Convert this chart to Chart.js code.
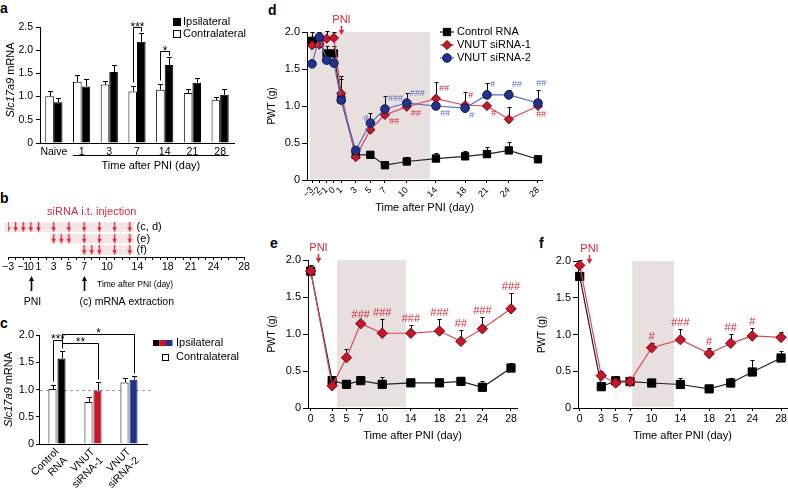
<!DOCTYPE html>
<html><head><meta charset="utf-8">
<script src="https://cdn.jsdelivr.net/npm/chart.js@4.4.1/dist/chart.umd.min.js"></script>
<style>
html,body{margin:0;padding:0;background:#fff;}
body{position:relative;width:788px;height:495px;overflow:hidden;}
canvas{position:absolute;}
.lt{position:absolute;font:bold 14px "Liberation Sans",Arial,sans-serif;line-height:14px;color:#000;}
</style></head><body>
<div class="lt" style="left:0px;top:1px">a</div>
<div class="lt" style="left:0px;top:191px">b</div>
<div class="lt" style="left:0px;top:316px">c</div>
<div class="lt" style="left:268px;top:3px">d</div>
<div class="lt" style="left:270px;top:236px">e</div>
<div class="lt" style="left:539px;top:236px">f</div>
<script>
// ================= DATA =================
// Panel a
const aCategories = ['Naive','1','3','7','14','21','28'];
const aContra     = [1.01,1.32,1.26,1.11,1.15,1.08,0.92];
const aContraErr  = [0.10,0.15,0.08,0.12,0.12,0.08,0.08];
const aIpsi       = [0.88,1.22,1.53,2.18,1.68,1.30,1.04];
const aIpsiErr    = [0.08,0.15,0.16,0.18,0.17,0.11,0.13];
const aYTicks     = [0,0.5,1,1.5,2,2.5];
const aSigCats    = ['7','14'];
const aSigText    = ['***','*'];

// Panel b
const bAxisDays   = [-3,-2,-1,0,1,2,3,4,5,6,7,8,9,10,11,12,13,14,15,16,17,18,19,20,21,22,23,24,25,26,27,28];
const bLabelDays  = [-3,-1,0,1,3,5,7,10,14,18,21,24,28];
const bRowLabels  = ['(c, d)','(e)','(f)'];
const bInjections = [[-3,-2,-1,0,1,3,5,7,9,11,13],[3,4,5,7,9,11,13],[7,8,9,11,13]];
const bEventDays  = [0,7];
const bEventText  = ['PNI','(c) mRNA extraction'];

// Panel c
const cCategories = [['Control','RNA'],['VNUT','siRNA-1'],['VNUT','siRNA-2']];
const cContra     = [1.01,0.77,1.13];
const cContraErr  = [0.08,0.10,0.08];
const cIpsi       = [1.57,0.98,1.18];
const cIpsiErr    = [0.14,0.15,0.06];
const cYTicks     = [0,0.5,1,1.5,2];
const cSigText    = ['***','**','*'];
const cSigFrom    = [[0,0],[0,1],[0,1]];
const cSigTo      = [[0,1],[1,1],[2,1]];

// Panel d
const dDays       = [-3,-2,-1,0,1,3,5,7,10,14,18,21,24,28];
const dControl    = [1.88,1.84,1.71,1.71,1.09,0.34,0.34,0.20,0.25,0.29,0.32,0.35,0.40,0.28];
const dControlErr = [0.12,0.08,0.10,0.10,0.27,0.04,0.03,0.03,0.06,0.08,0.07,0.09,0.12,0.03];
const dSi1        = [1.82,1.83,1.91,1.92,1.17,0.31,0.68,0.88,0.99,1.10,1.01,1.00,0.82,1.00];
const dSi1Err     = [0.10,0.08,0.10,0.08,0.23,0.03,0.05,0.04,0.05,0.23,0.18,0.03,0.17,0.03];
const dSi2        = [1.57,1.93,1.62,1.58,1.08,0.40,0.77,0.96,1.04,1.00,0.97,1.15,1.15,1.04];
const dSi2Err     = [0.05,0.07,0.05,0.04,0.05,0.05,0.14,0.17,0.13,0.04,0.05,0.16,0.07,0.18];
const dTicks      = [-3,-2,-1,0,1,3,5,7,10,14,18,21,24,28];
const dSi1Sig     = [[7,'##','rb'],[10,'##','rb'],[14,'##','ra'],[18,'#','ra'],[21,'#','rb'],[28,'##','b']];
const dSi2Sig     = [[5,'#','l'],[7,'###','ra'],[10,'###','ra'],[14,'##','rb'],[18,'#','rb'],[21,'#','ra'],[24,'##','ra'],[28,'##','a']];
const dShade      = [-3.3,13.2];

// Panel e
const eDays       = [0,3,5,7,10,14,18,21,24,28];
const eControl    = [1.85,0.37,0.32,0.37,0.32,0.34,0.34,0.36,0.28,0.54];
const eControlErr = [0.05,0.03,0.03,0.04,0.10,0.03,0.03,0.03,0.08,0.07];
const eSi1        = [1.85,0.30,0.68,1.14,1.01,1.01,1.04,0.90,1.07,1.34];
const eSi1Err     = [0.08,0.03,0.12,0.04,0.19,0.11,0.16,0.15,0.16,0.22];
const eSi1Sig     = [[7,'###','a'],[10,'###','a'],[14,'###','a'],[18,'###','a'],[21,'##','a'],[24,'###','a'],[28,'###','a']];
const eShade      = [3.7,13.3];

// Panel f
const fDays       = [0,3,5,7,10,14,18,21,24,28];
const fControl    = [1.79,0.29,0.37,0.36,0.34,0.32,0.26,0.34,0.49,0.68];
const fControlErr = [0.03,0.03,0.07,0.03,0.03,0.09,0.03,0.07,0.16,0.10];
const fSi1        = [1.94,0.44,0.34,0.36,0.82,0.93,0.74,0.88,0.98,0.96];
const fSi1Err     = [0.08,0.06,0.05,0.03,0.07,0.15,0.08,0.13,0.11,0.08];
const fSi1Sig     = [[10,'#','a'],[14,'###','a'],[18,'#','a'],[21,'##','a'],[24,'#','a']];
const fShade      = [7.3,13.1];
const efTicks     = [0,3,5,7,10,14,18,21,24,28];
const pwtYTicks   = [0,0.5,1,1.5,2];

// ================= STYLE =================
const FONT = '"Liberation Sans", Arial, Helvetica, sans-serif';
Chart.defaults.font.family = FONT;
Chart.defaults.font.size = 11;
Chart.defaults.color = '#000';
Chart.defaults.animation = false;
Chart.defaults.responsive = false;
Chart.defaults.maintainAspectRatio = false;
Chart.defaults.events = [];
Chart.defaults.plugins.legend.display = false;
Chart.defaults.plugins.tooltip.enabled = false;

const RED = '#c8172b', RED_EDGE = '#6e0b15', RED_LINE = '#d9495a', RED_TXT = '#d42a3c';
const BLUE = '#22338e', BLUE_EDGE = '#10184d', BLUE_LINE = '#5b6cbc', BLUE_TXT = '#5a6fc6';
const SHADE = '#e8dfdf', B_SHADE = '#f3e5e5';

const STY = {
  control: {line:'#222', fill:'#000', edge:'#000', shape:'rect', r1:5.2, r2:5.8, order:3, txt:'#000'},
  si1:     {line:RED_LINE, fill:RED, edge:RED_EDGE, shape:'rectRot', r1:4.6, r2:5.2, order:2, txt:RED_TXT},
  si2:     {line:BLUE_LINE, fill:BLUE, edge:BLUE_EDGE, shape:'circle', r1:4.3, r2:4.6, order:1, txt:BLUE_TXT}
};

function fmt(v){ return v < 0 ? '\u2212' + (-v) : String(v); }
function yFmt(v){ return v === 0 ? '0' : v.toFixed(1); }

function mkCanvas(b){
  const c = document.createElement('canvas');
  c.width = b.w; c.height = b.h;
  c.style.left = b.x + 'px'; c.style.top = b.y + 'px';
  c.style.width = b.w + 'px'; c.style.height = b.h + 'px';
  document.body.appendChild(c);
  return c;
}
function fitArea(opts, b, a){
  opts.layout = {padding:{left:0, right:b.x + b.w - a.r, top:a.t - b.y, bottom:0}};
  opts.scales.x.afterFit = s => { s.height = b.y + b.h - a.b; };
  opts.scales.y.afterFit = s => { s.width = a.l - b.x; };
}
function yAxis(max, ticks, tickLen, pad, size, title, titlePad){
  return {
    type:'linear', min:0, max:max, bounds:'data',
    afterBuildTicks: s => { s.ticks = ticks.map(v => ({value:v})); },
    ticks:{callback:yFmt, padding:pad, font:{size:size}},
    grid:{display:true, drawOnChartArea:false, drawTicks:true, tickLength:tickLen, color:'#000', lineWidth:1},
    border:{display:true, color:'#000', width:1},
    title: title ? {display:true, text:title, font:{size:10}, padding:{top:titlePad, bottom:0}} : {display:false}
  };
}
function drawMarker(ctx, shape, x, y, r, fill, edge){
  ctx.save(); ctx.fillStyle = fill; ctx.strokeStyle = edge; ctx.lineWidth = 1; ctx.beginPath();
  if (shape === 'rect') { const s = r * Math.SQRT1_2; ctx.rect(x - s, y - s, 2 * s, 2 * s); }
  else if (shape === 'rectRot') { ctx.moveTo(x - r, y); ctx.lineTo(x, y - r); ctx.lineTo(x + r, y); ctx.lineTo(x, y + r); ctx.closePath(); }
  else { ctx.arc(x, y, r, 0, Math.PI * 2); }
  ctx.fill(); ctx.stroke(); ctx.restore();
}
function drawYTitle(ctx, cx, cy, parts, size){
  ctx.save(); ctx.translate(cx, cy); ctx.rotate(-Math.PI / 2);
  ctx.textBaseline = 'middle'; ctx.textAlign = 'left'; ctx.fillStyle = '#000';
  let total = 0;
  parts.forEach(p => { ctx.font = (p[1] ? 'italic ' : '') + size + 'px ' + FONT; total += ctx.measureText(p[0]).width; });
  let x = -total / 2;
  parts.forEach(p => { ctx.font = (p[1] ? 'italic ' : '') + size + 'px ' + FONT; ctx.fillText(p[0], x, 0); x += ctx.measureText(p[0]).width; });
  ctx.restore();
}
function errBar(ctx, x, yFrom, yTop, cap){
  const px = Math.round(x) + 0.5, yt = Math.round(yTop) + 0.5;
  ctx.beginPath(); ctx.moveTo(px, yFrom); ctx.lineTo(px, yt);
  ctx.moveTo(px - cap, yt); ctx.lineTo(px + cap, yt); ctx.stroke();
  return yt;
}

// ================= PANEL a =================
(function(){
  const box = {x:0, y:0, w:260, h:192}, area = {l:40, t:27, r:234, b:143};
  const plugin = {
    id:'aExtras',
    afterDatasetsDraw(chart){
      const {ctx, chartArea:ca, scales:{y}} = chart;
      const ds = chart.data.datasets;
      const metas = [chart.getDatasetMeta(0), chart.getDatasetMeta(1)];
      ctx.save(); ctx.strokeStyle = '#000'; ctx.fillStyle = '#000'; ctx.lineWidth = 1;
      const tops = [[],[]];
      metas.forEach((m, di) => m.data.forEach((bar, i) => {
        tops[di][i] = errBar(ctx, bar.x, bar.y, y.getPixelForValue(ds[di].data[i] + ds[di].err[i]), 2.5);
      }));
      ctx.font = '12px ' + FONT; ctx.textAlign = 'center'; ctx.textBaseline = 'alphabetic';
      aSigCats.forEach((cat, k) => {
        const i = aCategories.indexOf(cat);
        const xa = Math.round(metas[0].data[i].x) + 0.5, xb = Math.round(metas[1].data[i].x) + 0.5;
        const yl = tops[1][i] - 6;
        ctx.beginPath(); ctx.moveTo(xa, tops[0][i] - 4); ctx.lineTo(xa, yl); ctx.lineTo(xb, yl); ctx.lineTo(xb, tops[1][i] - 2); ctx.stroke();
        ctx.fillText(aSigText[k], (xa + xb) / 2, yl + 3);
      });
      const b1 = metas[0].data[1], b6 = metas[1].data[6];
      const x0 = b1.x - b1.width / 2, x1 = b6.x + b6.width / 2, yy = Math.round(ca.bottom + 12) + 0.5;
      ctx.beginPath(); ctx.moveTo(x0, yy); ctx.lineTo(x1, yy); ctx.stroke();
      ctx.font = '11px ' + FONT; ctx.textBaseline = 'middle';
      ctx.fillText('Time after PNI (day)', (x0 + x1) / 2, ca.bottom + 23);
      ctx.textAlign = 'left';
      [1, 0].forEach((di, r) => {
        const ly = ca.top - 9 + r * 12;
        ctx.fillStyle = ds[di].backgroundColor; ctx.fillRect(173.5, ly + 0.5, 7, 7);
        ctx.strokeRect(173.5, ly + 0.5, 7, 7);
        ctx.fillStyle = '#000'; ctx.fillText(ds[di].label, 183, ly + 4);
      });
      drawYTitle(ctx, 11, (ca.top + ca.bottom) / 2 - 5, [['Slc17a9', true], [' mRNA', false]], 11);
      ctx.restore();
    }
  };
  const options = {
    scales:{
      x:{type:'category', grid:{display:false, drawTicks:false}, border:{display:true, color:'#000'},
         ticks:{padding:3, autoSkip:false, maxRotation:0, font:{size:10.5}}},
      y:yAxis(2.5, aYTicks, 4, 3, 10.5)
    }
  };
  fitArea(options, box, area);
  new Chart(mkCanvas(box), {
    type:'bar',
    data:{labels:aCategories, datasets:[
      {label:'Contralateral', data:aContra, err:aContraErr, backgroundColor:'#fff', borderColor:'#000', borderWidth:1, categoryPercentage:0.62, barPercentage:1},
      {label:'Ipsilateral', data:aIpsi, err:aIpsiErr, backgroundColor:'#000', borderColor:'#000', borderWidth:1, categoryPercentage:0.62, barPercentage:1}
    ]},
    options, plugins:[plugin]
  });
})();

// ================= PANEL b =================
(function(){
  const box = {x:0, y:205, w:260, h:105};
  const oy = box.y;
  const arrow = document.createElement('canvas');
  arrow.width = 5; arrow.height = 10;
  const ac = arrow.getContext('2d');
  ac.fillStyle = RED_TXT;
  ac.fillRect(1.8, 0, 1.4, 6);
  ac.beginPath(); ac.moveTo(0.3, 5); ac.lineTo(4.7, 5); ac.lineTo(2.5, 10); ac.closePath(); ac.fill();
  const rowY = [3, 2, 1];
  const plugin = {
    id:'bExtras',
    beforeDatasetsDraw(chart){
      const {ctx, scales:{x, y}} = chart;
      ctx.save(); ctx.fillStyle = B_SHADE;
      bInjections.forEach((days, r) => {
        const x0 = x.getPixelForValue(Math.min(...days) - 0.45), x1 = x.getPixelForValue(Math.max(...days) + 0.5);
        const yc = y.getPixelForValue(rowY[r]);
        ctx.fillRect(x0, yc - 4.7, x1 - x0, 9.4);
      });
      ctx.restore();
    },
    afterDatasetsDraw(chart){
      const {ctx, scales:{x, y}} = chart;
      ctx.save(); ctx.fillStyle = '#000'; ctx.strokeStyle = '#000';
      ctx.font = '11px ' + FONT; ctx.textBaseline = 'middle'; ctx.textAlign = 'left';
      bInjections.forEach((days, r) => {
        ctx.fillText(bRowLabels[r], x.getPixelForValue(Math.max(...days) + 0.5) + 3, y.getPixelForValue(rowY[r]));
      });
      ctx.fillStyle = RED_TXT; ctx.textAlign = 'center';
      ctx.fillText('siRNA i.t. injection', x.getPixelForValue(8), 212 - oy);
      ctx.fillStyle = '#000';
      bEventDays.forEach((d, k) => {
        const px = Math.round(x.getPixelForValue(d)) + 0.5;
        ctx.lineWidth = 1.6;
        ctx.beginPath(); ctx.moveTo(px, 291 - oy); ctx.lineTo(px, 280 - oy); ctx.stroke();
        ctx.beginPath(); ctx.moveTo(px - 2.5, 281 - oy); ctx.lineTo(px + 2.5, 281 - oy); ctx.lineTo(px, 276 - oy); ctx.closePath(); ctx.fill();
        ctx.font = '10.5px ' + FONT;
        if (k === 0) { ctx.textAlign = 'center'; ctx.fillText(bEventText[k], px + 1, 302 - oy); }
        else { ctx.textAlign = 'left'; ctx.fillText(bEventText[k], px - 5, 302 - oy); }
      });
      ctx.font = '8.5px ' + FONT; ctx.textAlign = 'left';
      ctx.fillText('Time after PNI (day)', 97, 285 - oy);
      ctx.restore();
    }
  };
  new Chart(mkCanvas(box), {
    type:'scatter',
    data:{datasets: bInjections.map((days, r) => ({
      label:bRowLabels[r], data: days.map(d => ({x:d, y:rowY[r]})),
      pointStyle:arrow, pointRadius:5, showLine:false
    }))},
    options:{
      layout:{padding:{left:8, right:16, top:13, bottom:0}},
      scales:{
        x:{type:'linear', min:-3, max:28, bounds:'data',
           afterBuildTicks: s => { s.ticks = bAxisDays.map(v => ({value:v})); },
           ticks:{autoSkip:false, maxRotation:0, minRotation:0, padding:1, font:{size:10.5},
                  callback: v => bLabelDays.includes(v) ? fmt(v) : ''},
           grid:{display:true, drawOnChartArea:false, drawTicks:true, tickLength:3, color:'#000'},
           border:{display:true, color:'#000'},
           afterFit: s => { s.height = 310 - 257; }},
        y:{type:'linear', min:0.4, max:3.8, display:false}
      }
    },
    plugins:[plugin]
  });
})();

// ================= PANEL c =================
(function(){
  const box = {x:0, y:318, w:260, h:177}, area = {l:39, t:335, r:147, b:444};
  const oy = box.y;
  const levels = [1.91, 1.85, 2.02];
  const plugin = {
    id:'cExtras',
    beforeDatasetsDraw(chart){
      const {ctx, chartArea:ca, scales:{y}} = chart;
      ctx.save(); ctx.strokeStyle = '#9a9a9a'; ctx.setLineDash([3, 3]); ctx.lineWidth = 1;
      const yy = Math.round(y.getPixelForValue(1)) + 0.5;
      ctx.beginPath(); ctx.moveTo(ca.left + 1, yy); ctx.lineTo(ca.right + 6, yy); ctx.stroke();
      ctx.restore();
    },
    afterDatasetsDraw(chart){
      const {ctx, chartArea:ca, scales:{y}} = chart;
      const ds = chart.data.datasets;
      const metas = [chart.getDatasetMeta(0), chart.getDatasetMeta(1)];
      ctx.save(); ctx.strokeStyle = '#000'; ctx.fillStyle = '#000'; ctx.lineWidth = 1;
      const tops = [[],[]];
      metas.forEach((m, di) => m.data.forEach((bar, i) => {
        tops[di][i] = errBar(ctx, bar.x, bar.y, y.getPixelForValue(ds[di].data[i] + ds[di].err[i]), 2.5);
      }));
      ctx.font = '12px ' + FONT; ctx.textAlign = 'center'; ctx.textBaseline = 'alphabetic';
      cSigText.forEach((t, k) => {
        const [ca0, da] = cSigFrom[k], [cb0, db] = cSigTo[k];
        const xa = Math.round(metas[da].data[ca0].x) + 0.5, xb = Math.round(metas[db].data[cb0].x) + 0.5;
        const yl = Math.round(y.getPixelForValue(levels[k])) + 0.5;
        ctx.beginPath();
        ctx.moveTo(xa, tops[da][ca0] - 4); ctx.lineTo(xa, yl); ctx.lineTo(xb, yl); ctx.lineTo(xb, tops[db][cb0] - 3);
        ctx.stroke();
        ctx.fillText(t, (xa + xb) / 2, yl + 2.5);
      });
      ctx.font = '11px ' + FONT; ctx.textAlign = 'left'; ctx.textBaseline = 'middle';
      const cols = ds[1].backgroundColor;
      cols.forEach((c, i) => { ctx.fillStyle = c; ctx.fillRect(153 + i * 6.5, 340 - oy, 6.5, 6); });
      ctx.fillStyle = '#000'; ctx.fillText(ds[1].label, 176, 343 - oy);
      ctx.strokeRect(162.5, 354.5 - oy, 6, 6);
      ctx.fillText(ds[0].label, 176, 357 - oy);
      drawYTitle(ctx, 9, (ca.top + ca.bottom) / 2, [['Slc17a9', true], [' mRNA', false]], 11);
      ctx.restore();
    }
  };
  const options = {
    scales:{
      x:{type:'category', grid:{display:false, drawTicks:false}, border:{display:true, color:'#000'},
         ticks:{padding:2, autoSkip:false, maxRotation:45, minRotation:45, font:{size:10.5, lineHeight:1.15}}},
      y:yAxis(2, cYTicks, 3, 2, 11)
    }
  };
  fitArea(options, box, area);
  new Chart(mkCanvas(box), {
    type:'bar',
    data:{labels:cCategories, datasets:[
      {label:'Contralateral', data:cContra, err:cContraErr, backgroundColor:'#fff', borderColor:'#000', borderWidth:1, categoryPercentage:0.5, barPercentage:0.9},
      {label:'Ipsilateral', data:cIpsi, err:cIpsiErr, backgroundColor:['#000', RED, BLUE], borderColor:['#000', '#5a0a12', '#0d1440'], borderWidth:1, categoryPercentage:0.5, barPercentage:0.9}
    ]},
    options, plugins:[plugin]
  });
})();

// ================= PANELS d, e, f =================
function lineDS(label, kind, days, vals, errs, sig, big){
  const st = STY[kind];
  return {
    label, kind, data: days.map((d, i) => ({x:d, y:vals[i]})), err: errs, sig: sig || [],
    borderColor: st.line, borderWidth: 1.2, tension: 0, clip: false,
    pointStyle: st.shape, pointRadius: big ? st.r2 : st.r1,
    pointBackgroundColor: st.fill, pointBorderColor: st.edge, pointBorderWidth: 1, order: st.order
  };
}
function pwtPlugin(cfg){
  return {
    id:'pwtExtras',
    beforeDraw(chart){
      const {ctx, chartArea:ca, scales:{x}} = chart;
      const x0 = x.getPixelForValue(cfg.shade[0]), x1 = x.getPixelForValue(cfg.shade[1]);
      ctx.save(); ctx.fillStyle = SHADE; ctx.fillRect(x0, ca.top, x1 - x0, ca.bottom - ca.top - 1); ctx.restore();
    },
    beforeDatasetsDraw(chart){
      const {ctx, scales:{y}} = chart;
      ctx.save(); ctx.strokeStyle = '#000'; ctx.lineWidth = 1;
      chart.data.datasets.forEach((ds, di) => {
        const meta = chart.getDatasetMeta(di);
        meta.data.forEach((pt, i) => errBar(ctx, pt.x, pt.y, y.getPixelForValue(ds.data[i].y + ds.err[i]), 2));
      });
      ctx.restore();
    },
    afterDatasetsDraw(chart){
      const {ctx, chartArea:ca, scales:{x, y}} = chart;
      ctx.save();
      ctx.font = cfg.sigFont; ctx.textBaseline = 'middle';
      chart.data.datasets.forEach((ds, di) => {
        const meta = chart.getDatasetMeta(di);
        ctx.fillStyle = STY[ds.kind].txt;
        ds.sig.forEach(([day, text, where]) => {
          const i = ds.data.findIndex(p => p.x === day);
          const pt = meta.data[i];
          const et = y.getPixelForValue(ds.data[i].y + ds.err[i]);
          if (where === 'a') { ctx.textAlign = 'center'; ctx.fillText(text, pt.x + cfg.aDx, et - 6); }
          else if (where === 'ra') { ctx.textAlign = 'left'; ctx.fillText(text, pt.x + 3, pt.y - 10); }
          else if (where === 'rb') { ctx.textAlign = 'left'; ctx.fillText(text, pt.x + 4, pt.y + 7); }
          else if (where === 'l') { ctx.textAlign = 'right'; ctx.fillText(text, pt.x - 2, pt.y - 5); }
          else if (where === 'b') { ctx.textAlign = 'center'; ctx.fillText(text, pt.x + 3, pt.y + 8); }
        });
      });
      const px = Math.round(x.getPixelForValue(cfg.pniDay)) + 0.5;
      ctx.fillStyle = RED_TXT; ctx.strokeStyle = RED_TXT; ctx.lineWidth = 1.6;
      ctx.beginPath(); ctx.moveTo(px, ca.top - 6); ctx.lineTo(px, ca.top - 1); ctx.stroke();
      ctx.beginPath(); ctx.moveTo(px - 2.8, ca.top - 2); ctx.lineTo(px + 2.8, ca.top - 2); ctx.lineTo(px, ca.top + 3); ctx.closePath(); ctx.fill();
      ctx.font = '11px ' + FONT; ctx.textAlign = 'center';
      ctx.fillText('PNI', px, ca.top - 12);
      if (cfg.legend) {
        const lx = cfg.legend.x - cfg.ox;
        ctx.textAlign = 'left'; ctx.font = '11px ' + FONT;
        chart.data.datasets.forEach((ds, di) => {
          const st = STY[ds.kind];
          const ly = ca.top + di * 13;
          ctx.strokeStyle = st.line; ctx.lineWidth = 1.2;
          ctx.beginPath(); ctx.moveTo(lx, ly); ctx.lineTo(lx + 14, ly); ctx.stroke();
          drawMarker(ctx, st.shape, lx + 7, ly, st.r1, st.fill, st.edge);
          ctx.fillStyle = '#000'; ctx.fillText(ds.label, lx + 17, ly);
        });
      }
      ctx.restore();
    }
  };
}
function xLinear(min, max, ticks, rot, size){
  return {
    type:'linear', min, max, bounds:'data',
    afterBuildTicks: s => { s.ticks = ticks.map(v => ({value:v})); },
    ticks:{autoSkip:false, maxRotation:rot, minRotation:rot, padding:2, font:{size:size}, callback: v => fmt(v)},
    grid:{display:true, drawOnChartArea:false, drawTicks:true, tickLength:3, color:'#000'},
    border:{display:true, color:'#000'},
    title:{display:true, text:'Time after PNI (day)', font:{size:11}, padding:{top:0, bottom:2}}
  };
}
function pwtChart(box, area, xmin, xmax, ticks, rot, tickSize, datasets, cfg, yTitlePad){
  cfg.ox = box.x;
  const options = { scales:{ x:xLinear(xmin, xmax, ticks, rot, tickSize), y:yAxis(2, pwtYTicks, 5, 2, 11, 'PWT (g)', yTitlePad) } };
  fitArea(options, box, area);
  return new Chart(mkCanvas(box), {type:'line', data:{datasets}, options, plugins:[pwtPlugin(cfg)]});
}

// d
pwtChart({x:262, y:0, w:290, h:217}, {l:307, t:32, r:542, b:180}, -3.69, 28.55, dTicks, 45, 9,
  [ lineDS('Control RNA', 'control', dDays, dControl, dControlErr, [], false),
    lineDS('VNUT siRNA-1', 'si1', dDays, dSi1, dSi1Err, dSi1Sig, false),
    lineDS('VNUT siRNA-2', 'si2', dDays, dSi2, dSi2Err, dSi2Sig, false) ],
  {shade:dShade, pniDay:0.95, legend:{x:440}, sigFont:'italic 9px ' + FONT, aDx:3}, 4);

// e
pwtChart({x:262, y:235, w:270, h:210}, {l:308, t:260, r:517, b:408}, -0.38, 28.84, efTicks, 0, 10.5,
  [ lineDS('Control RNA', 'control', eDays, eControl, eControlErr, [], true),
    lineDS('VNUT siRNA-1', 'si1', eDays, eSi1, eSi1Err, eSi1Sig, true) ],
  {shade:eShade, pniDay:1.0, legend:null, sigFont:'11px ' + FONT, aDx:0}, 4);

// f
pwtChart({x:532, y:235, w:270, h:210}, {l:578, t:261, r:787, b:408}, -0.24, 28.83, efTicks, 0, 10.5,
  [ lineDS('Control RNA', 'control', fDays, fControl, fControlErr, [], true),
    lineDS('VNUT siRNA-1', 'si1', fDays, fSi1, fSi1Err, fSi1Sig, true) ],
  {shade:fShade, pniDay:1.3, legend:null, sigFont:'11px ' + FONT, aDx:0}, 4.5);
</script></body></html>
